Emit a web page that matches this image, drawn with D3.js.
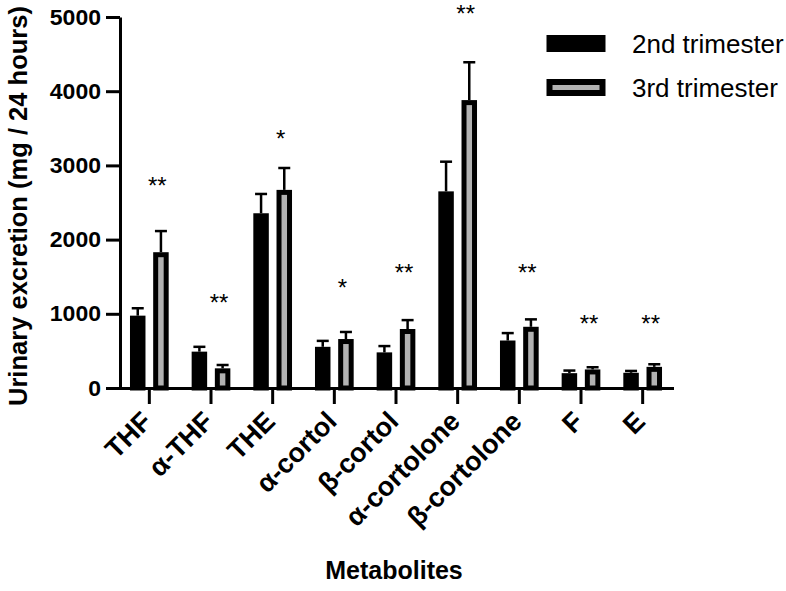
<!DOCTYPE html>
<html>
<head>
<meta charset="utf-8">
<script src="https://cdn.jsdelivr.net/npm/d3@7/dist/d3.min.js"></script>
<style>
  html, body { margin: 0; padding: 0; background: #ffffff; }
  svg { display: block; font-family: "Liberation Sans", Arial, sans-serif; }
</style>
</head>
<body>
<svg id="chart" width="786" height="591"></svg>
<script>
// ---- data ----
const categories = ["THF", "α-THF", "THE", "α-cortol", "β-cortol", "α-cortolone", "β-cortolone", "F", "E"];
const seriesNames = ["2nd trimester", "3rd trimester"];
const mean2nd = [975, 490, 2355, 555, 480, 2650, 640, 200, 205];
const err2nd  = [100, 65, 260, 80, 85, 400, 100, 35, 25];
const mean3rd = [1830, 265, 2670, 660, 795, 3880, 825, 250, 285];
const err3rd  = [285, 45, 295, 95, 120, 510, 100, 30, 35];
const significance = ["**", "**", "*", "*", "**", "**", "**", "**", "**"];
const significanceLevel = [2800, 1230, 3430, 1430, 1625, 5115, 1630, 940, 940];
const yTicks = [0, 1000, 2000, 3000, 4000, 5000];

// ---- layout ----
const svg = d3.select("#chart");
const axisX0 = 120, plotBottom = 388, plotTop = 17;

const x = d3.scaleBand().domain(categories).range([118.5, 673.5]).paddingInner(0).paddingOuter(0);
const sub = d3.scaleBand().domain(seriesNames).range([-23.2, 23.2]);
const y = d3.scaleLinear().domain([0, 5000]).range([plotBottom, plotTop]);
const barW = 15.5;
const fills = { "2nd trimester": "#000000", "3rd trimester": "#b2b2b2" };

const rows = [];
categories.forEach((c, i) => {
  rows.push({ cat: c, s: seriesNames[0], v: mean2nd[i], e: err2nd[i] });
  rows.push({ cat: c, s: seriesNames[1], v: mean3rd[i], e: err3rd[i] });
});
const cx = d => x(d.cat) + x.bandwidth() / 2 + sub(d.s) + sub.bandwidth() / 2;

// error bars (drawn first, bars on top)
const eb = svg.append("g");
eb.selectAll("line.v").data(rows).join("line")
  .attr("x1", cx).attr("x2", cx)
  .attr("y1", d => y(d.v)).attr("y2", d => y(d.v + d.e))
  .attr("stroke", "#000").attr("stroke-width", 2.5);
eb.selectAll("line.c").data(rows).join("line")
  .attr("x1", d => cx(d) - 6).attr("x2", d => cx(d) + 6)
  .attr("y1", d => y(d.v + d.e)).attr("y2", d => y(d.v + d.e))
  .attr("stroke", "#000").attr("stroke-width", 2.5);

// bars
const sw = 5;
svg.append("g").selectAll("rect").data(rows).join("rect")
  .attr("x", d => cx(d) - barW / 2 + sw / 2)
  .attr("width", barW - sw)
  .attr("y", d => y(d.v) + sw / 2)
  .attr("height", d => Math.max(0, y(0) - y(d.v) - sw / 2))
  .attr("fill", d => fills[d.s])
  .attr("stroke", "#000").attr("stroke-width", sw);

// significance stars
svg.append("g").selectAll("text").data(categories).join("text")
  .attr("x", (c) => x(c) + x.bandwidth() / 2 + 8)
  .attr("y", (c, i) => y(significanceLevel[i]) + 14)
  .attr("text-anchor", "middle")
  .attr("font-size", 24)
  .attr("fill", "#000")
  .text((c, i) => significance[i]);

// y axis
const yAxis = svg.append("g").attr("transform", `translate(${axisX0},0)`)
  .call(d3.axisLeft(y).tickValues(yTicks).tickFormat(d3.format("d")).tickSize(14).tickPadding(5).tickSizeOuter(0));
yAxis.select(".domain").attr("stroke-width", 3);
yAxis.selectAll(".tick line").attr("stroke-width", 3);
yAxis.selectAll(".tick text").attr("font-size", 22).attr("font-weight", "bold").attr("fill", "#000")
  .attr("font-family", "'Liberation Sans', Arial, sans-serif")
  .attr("textLength", d => String(d).length * 12.8)
  .attr("lengthAdjust", "spacingAndGlyphs");

// x axis
const xAxis = svg.append("g").attr("transform", `translate(0,${plotBottom})`)
  .call(d3.axisBottom(x).tickSize(16).tickSizeOuter(0).tickFormat(""));
xAxis.select(".domain").attr("stroke-width", 3);
xAxis.selectAll(".tick line").attr("stroke-width", 3);

svg.append("g").selectAll("text").data(categories).join("text")
  .attr("transform", c => `translate(${x(c) + x.bandwidth() / 2 + 4},${plotBottom + 35}) rotate(-45)`)
  .attr("text-anchor", "end")
  .attr("font-size", 27)
  .attr("font-weight", "bold")
  .attr("fill", "#000")
  .text(c => c);

// axis titles
svg.append("text")
  .attr("transform", `translate(27,206) rotate(-90)`)
  .attr("text-anchor", "middle")
  .attr("font-size", 26).attr("font-weight", "bold").attr("fill", "#000")
  .attr("textLength", 400).attr("lengthAdjust", "spacingAndGlyphs")
  .text("Urinary excretion (mg / 24 hours)");

svg.append("text")
  .attr("x", 394).attr("y", 579)
  .attr("text-anchor", "middle")
  .attr("font-size", 25).attr("font-weight", "bold").attr("fill", "#000")
  .text("Metabolites");

// legend
const lg = svg.append("g");
seriesNames.forEach((s, i) => {
  const ly = 35 + i * 44;
  lg.append("rect")
    .attr("x", 546.5 + 3).attr("y", ly + 3)
    .attr("width", 59 - 6).attr("height", 17 - 6)
    .attr("fill", fills[s]).attr("stroke", "#000").attr("stroke-width", 6);
  lg.append("text")
    .attr("x", 632).attr("y", ly + 17.5)
    .attr("font-size", 26).attr("fill", "#000")
    .text(s);
});
</script>
</body>
</html>
